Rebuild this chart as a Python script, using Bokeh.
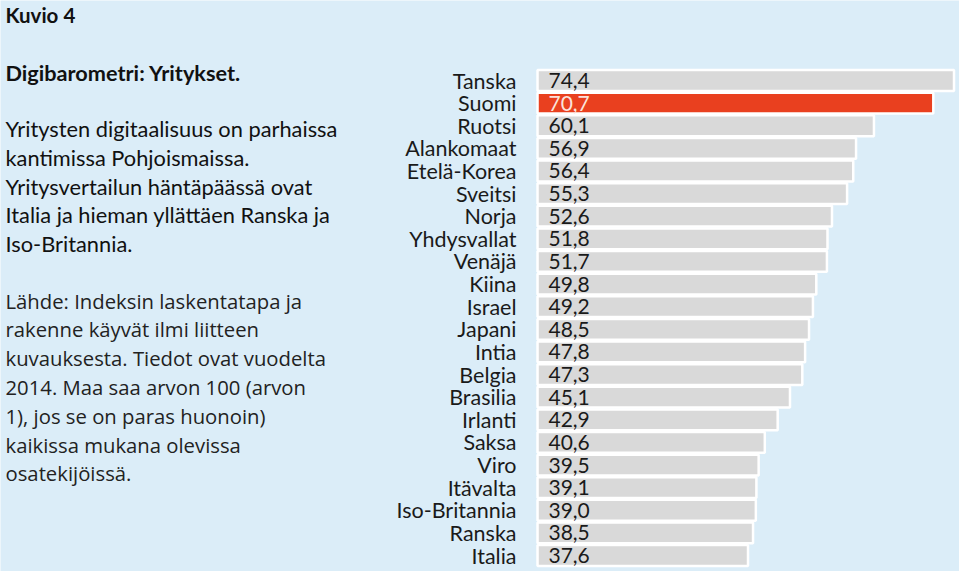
from bokeh.plotting import figure
from bokeh.models import Range1d, Label, ColumnDataSource
from bokeh.embed import file_html
from bokeh.resources import INLINE
from bokeh.core.properties import value

countries = ["Tanska", "Suomi", "Ruotsi", "Alankomaat", "Etelä-Korea", "Sveitsi", "Norja",
             "Yhdysvallat", "Venäjä", "Kiina", "Israel", "Japani", "Intia", "Belgia",
             "Brasilia", "Irlanti", "Saksa", "Viro", "Itävalta", "Iso-Britannia", "Ranska", "Italia"]
scores = [74.4, 70.7, 60.1, 56.9, 56.4, 55.3, 52.6, 51.8, 51.7, 49.8, 49.2, 48.5, 47.8, 47.3,
          45.1, 42.9, 40.6, 39.5, 39.1, 39.0, 38.5, 37.6]
highlight = "Suomi"

title = "Kuvio 4"
subtitle = "Digibarometri: Yritykset."
intro_lines = ["Yritysten digitaalisuus on parhaissa", "kantimissa Pohjoismaissa.",
               "Yritysvertailun häntäpäässä ovat", "Italia ja hieman yllättäen Ranska ja",
               "Iso-Britannia."]
source_lines = ["Lähde: Indeksin laskentatapa ja", "rakenne käyvät ilmi liitteen",
                "kuvauksesta. Tiedot ovat vuodelta", "2014. Maa saa arvon 100 (arvon",
                "1), jos se on paras huonoin)", "kaikissa mukana olevissa", "osatekijöissä."]

BG = "#dbedf8"
W, H = 959, 571
n = len(countries)
ypos = [n - 1 - i for i in range(n)]
colors = ["#e9401f" if c == highlight else "#d9d9d9" for c in countries]
label_colors = ["#fbe3dc" if c == highlight else "#1a1a1a" for c in countries]
labels = [f"{v:.1f}".replace(".", ",") for v in scores]

src = ColumnDataSource(dict(y=ypos, v=scores, c=colors, name=countries, lab=labels,
                            lc=label_colors, lx=[1.96] * n, nx=[-3.75] * n))

p = figure(width=W, height=H, x_range=Range1d(-95.93, 75.38), y_range=Range1d(-0.707, 24.537),
           output_backend="svg", toolbar_location=None, min_border=0)
p.axis.visible = False
p.grid.visible = False
p.outline_line_color = None
p.background_fill_color = BG
p.border_fill_color = BG

p.hbar(y="y", left=0, right="v", height=0.92, fill_color="c", line_color="white",
       line_width=2.5, source=src)
p.text(x="nx", y="y", text="name", source=src, text_align="right", text_baseline="middle",
       text_font=value("Lato"), text_font_size="21.5px", text_color="#1a1a1a")
p.text(x="lx", y="y", text="lab", source=src, text_align="left", text_baseline="middle",
       text_font=value("Lato"), text_font_size="21px", text_color="lc")

def add_label(txt, ref_y, size, bold=False, font="Lato", color="#111111"):
    p.add_layout(Label(x=5, y=H - ref_y, x_units="screen", y_units="screen", text=txt,
                       text_baseline="middle", text_font=font, text_font_size=size,
                       text_font_style="bold" if bold else "normal", text_color=color))

add_label(title, 14, "20.5px", bold=True)
add_label(subtitle, 72, "21.7px", bold=True)
for i, t in enumerate(intro_lines):
    add_label(t, 128 + i * 28.8, "21.8px")
for i, t in enumerate(source_lines):
    add_label(t, 300 + i * 28.8, "20.3px", font="Open Sans", color="#222222")

open("out.html", "w").write(file_html(p, INLINE))
